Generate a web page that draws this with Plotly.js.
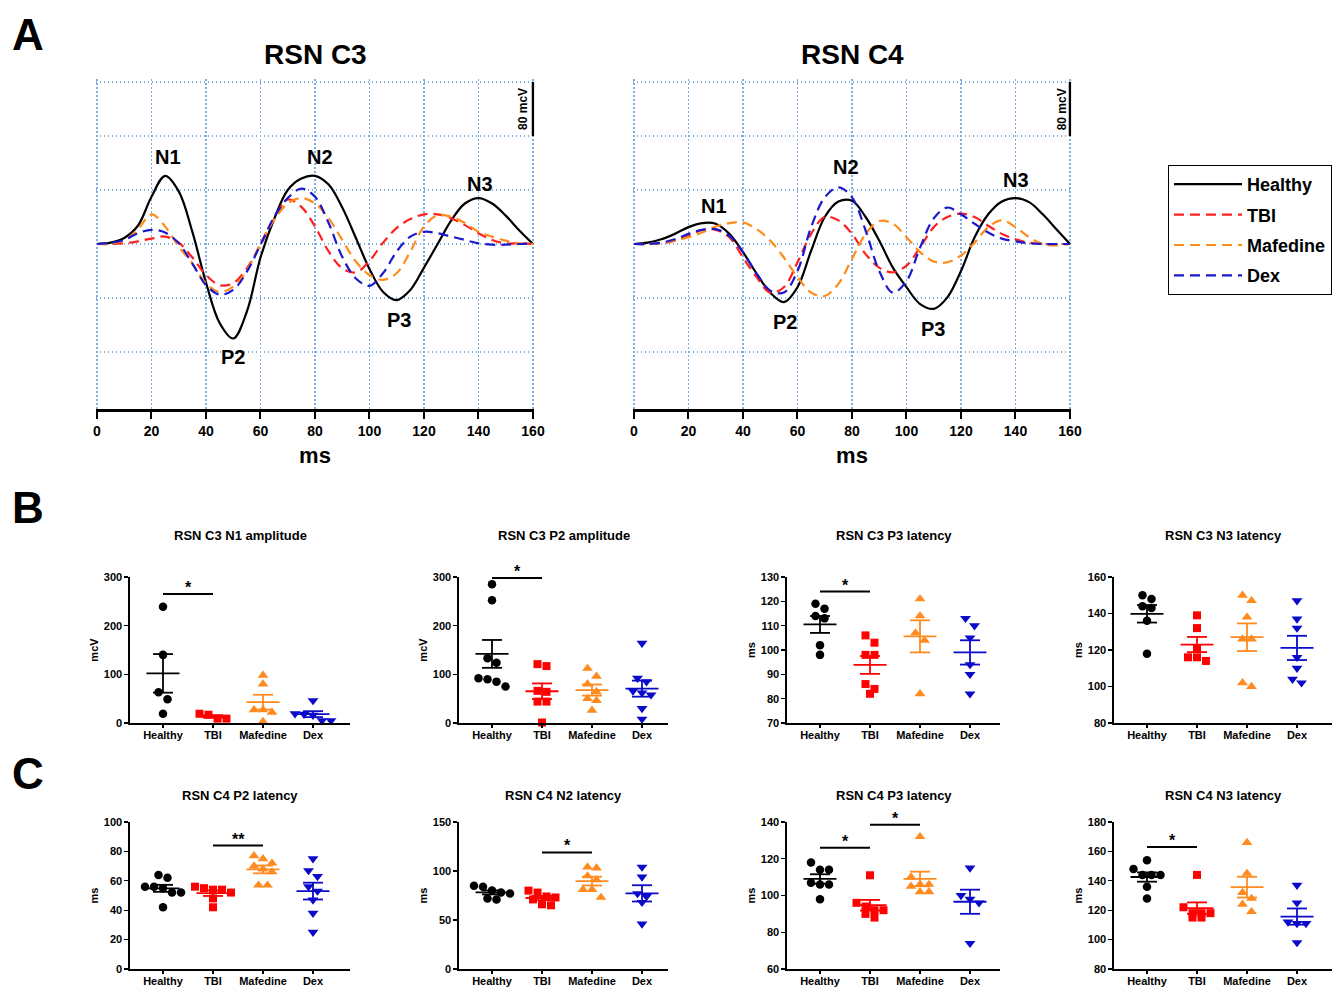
<!DOCTYPE html>
<html><head><meta charset="utf-8">
<script src="https://cdn.plot.ly/plotly-3.0.1.min.js"></script>
<style>html,body{margin:0;padding:0;background:#fff}#chart{width:1342px;height:988px}</style>
</head><body><div id="chart"></div>
<script>
const W = 1342, H = 988;
const FONT = 'Liberation Sans, Arial, Helvetica, sans-serif';

// ---------- Panel A: averaged evoked potentials (mcV vs ms) ----------
const timeMs = [0,5,10,15,20,25,30,35,40,45,50,55,60,65,70,75,80,85,90,95,100,105,110,115,120,125,130,135,140,145,150,155,160];
const waveNames = ['Healthy','TBI','Mafedine','Dex'];
const c3Healthy  = [0,2,9,27,70,101,78,18,-57,-117,-140,-100,-20,37,80,97,101,88,54,9,-37,-71,-83,-68,-35,0,35,60,68,60,42,20,0];
const c3TBI      = [0,0,1,4,8,11,2,-20,-46,-61,-58,-36,-1,36,66,55,26,-11,-36,-42,-25,2,24,37,44,44,38,28,16,6,1,1,0];
const c3Mafedine = [0,1,5,22,44,26,-4,-29,-58,-71,-63,-39,1,36,60,68,60,38,6,-26,-46,-53,-43,-11,26,43,40,31,18,11,5,1,0];
const c3Dex      = [0,2,6,16,21,17,1,-29,-61,-75,-68,-41,-1,40,68,82,70,31,-19,-51,-62,-43,-11,11,18,16,11,6,1,-1,-1,0,0];
const c4Healthy  = [0,2,7,15,25,31,30,15,-12,-44,-72,-86,-64,-10,40,63,64,40,5,-35,-64,-89,-96,-79,-40,10,44,63,68,62,44,22,0];
const c4TBI      = [0,0,1,5,12,21,21,10,-20,-49,-72,-64,-27,15,40,35,15,-15,-35,-42,-32,-5,25,40,45,40,27,15,7,2,0,0,0];
const c4Mafedine = [0,0,2,5,10,17,26,31,32,22,5,-20,-49,-72,-77,-59,-22,15,34,30,10,-12,-26,-27,-17,2,25,35,25,10,0,-2,0];
const c4Dex      = [0,0,2,7,15,21,22,12,-12,-44,-69,-72,-40,25,69,84,69,20,-40,-72,-55,-5,38,54,44,30,17,8,4,1,0,0,0];
const peakLabels = ['N1','N2','N3','P2','P3'];

// ---------- Panels B and C: individual values per group ----------
const groupNames = ['Healthy','TBI','Mafedine','Dex'];
const c3N1Amp = [[239,140,63,49,19],[17,9,9,19],[98,80,27,27,22,3],[46,19,18,16,5,5]];
const c3P2Amp = [[285,252,133,124,92,90,85,75],[121,117,64,66,44,44,1],[112,96,80,64,50,46,26],[164,92,85,66,62,58,30,8]];
const c3P3Lat = [[119,117,114,113,102,98],[106,103,98,98,86,84,82],[121,114,107,104,82],[113,110,105,94,90,82]];
const c3N3Lat = [[150,148,144,143,136,118],[139,132,121,116,116,114],[150,147,138,126,126,100,102],[147,137,132,116,110,104,102]];
const c4P2Lat = [[64,62,56,56,55,52,52,42],[56,55,54,54,52,48,42],[77,75,72,70,68,66,57,57],[75,67,63,56,53,47,38,25]];
const c4N2Lat = [[85,84,80,78,77,72,71],[80,78,74,73,71,66,65],[104,103,95,91,81,81,73],[104,94,77,74,68,46]];
const c4P3Lat = [[118,114,114,107,106,106,98],[111,96,94,92,92,90,88],[132,110,106,106,105,102,102],[115,100,98,96,74]];
const c4N3Lat = [[154,148,144,144,144,136,128],[144,122,118,118,118,115,115],[166,145,132,128,124,119],[137,125,112,111,111,98]];

// ---------- styles ----------
const waveColors = ['#000000','#ff1f1f','#ff8c1a','#1a1acc'];
const waveDash = ['solid','10px,6px','10px,6px','10px,6px'];
const groupColors = ['#000000','#ff0000','#ff8a1f','#0a0ac8'];
const groupSymbols = ['circle','square','triangle-up','triangle-down'];
const groupSizes = [8.5,8,9.5,9.5];
const gridStyle = {showgrid:true, gridcolor:'#7eaee0', griddash:'1.5px,2.5px', gridwidth:1.2};
const bold = (size) => ({family: FONT, size: size, weight: 700, color: '#000'});

const traces = [], annotations = [], shapes = [];
const layout = {
  width: W, height: H, margin: {l:0, r:0, t:0, b:0},
  paper_bgcolor: '#fff', plot_bgcolor: 'rgba(0,0,0,0)',
  font: {family: FONT, color: '#000'},
  showlegend: true,
  legend: {x: 1168/W, y: 1-165/H, xanchor: 'left', yanchor: 'top', bordercolor: '#000', borderwidth: 1,
           bgcolor: '#fff', font: bold(18), tracegroupgap: 4, itemwidth: 68},
  annotations: annotations, shapes: shapes
};

// ---------- Panel A ----------
const msPx = 436/160, mvPx = 54/80;
const topPanels = [
  {n:'', title:'RSN C3', left:97, right:533, series:[c3Healthy,c3TBI,c3Mafedine,c3Dex],
   peakPos:[[26,129],[82,129],[140.6,89],[50,-168],[111,-113]], barX:156.3},
  {n:'2', title:'RSN C4', left:634, right:1070, series:[c4Healthy,c4TBI,c4Mafedine,c4Dex],
   peakPos:[[29.4,56],[77.8,114],[140.2,95],[55.4,-116],[109.7,-126]], barX:157.2}
];
const yTopV = 244, yBotV = -245, zeroPx = 244;
topPanels.forEach((p, pi) => {
  const xa = 'x'+p.n, ya = 'y'+p.n;
  layout['xaxis'+p.n] = Object.assign({
    domain: [(p.left-0.5*msPx)/W, (p.right+0.5*msPx)/W], anchor: ya, range: [-0.5,160.5],
    tick0: 0, dtick: 20, showline: true, linewidth: 2.5, linecolor: '#000',
    ticks: 'outside', ticklen: 7, tickwidth: 2, tickcolor: '#000', tickfont: bold(14),
    zeroline: false, title: {text: 'ms', font: bold(22), standoff: 10}, fixedrange: true
  }, gridStyle);
  layout['yaxis'+p.n] = Object.assign({
    domain: [1-(zeroPx - yBotV*mvPx)/H, 1-(zeroPx - yTopV*mvPx)/H], anchor: xa, range: [yBotV, yTopV],
    tickvals: [-160,-80,0,80,160,240], showticklabels: false, ticks: '', showline: false,
    zeroline: false, fixedrange: true
  }, gridStyle);
  p.series.forEach((ys, k) => {
    traces.push({type:'scatter', mode:'lines', xaxis:xa, yaxis:ya, x:timeMs, y:ys, name:waveNames[k],
      legendgroup:'w'+k,
      line:{color:waveColors[k], width:2.2, dash:waveDash[k], shape:'spline', smoothing:1},
      showlegend: pi === 0, hoverinfo:'x+y'});
  });
  annotations.push({xref:'paper', yref:'paper', x:(p.left+p.right)/2/W, y:1-55/H, text:p.title,
    showarrow:false, xanchor:'center', yanchor:'middle', font:bold(28)});
  peakLabels.forEach((lab, k) => {
    annotations.push({xref:xa, yref:ya, x:p.peakPos[k][0], y:p.peakPos[k][1], text:lab, showarrow:false,
      xanchor:'center', yanchor:'middle', font:bold(20)});
  });
  // 80 mcV scale bar
  shapes.push({type:'line', xref:xa, yref:ya, x0:160, x1:160, y0:160, y1:240, line:{color:'#000', width:2.5}});
  annotations.push({xref:xa, yref:ya, x:p.barX, y:200, text:'80 mcV', textangle:-90, showarrow:false,
    xanchor:'center', yanchor:'middle', font:bold(12)});
});

// panel letters
[['A',35],['B',507],['C',773]].forEach(([t, yp]) => {
  annotations.push({xref:'paper', yref:'paper', x:28/W, y:1-yp/H, text:t, showarrow:false,
    xanchor:'center', yanchor:'middle', font:bold(44)});
});

// ---------- Panels B & C ----------
const catPx = 50;
const rowB = {top:577, bottom:723, titleY:535};
const rowC = {top:822, bottom:969, titleY:795};
const cols = [[130,350],[459,668],[787,1000],[1114,1332]];
const scatterPlots = [
  {data:c3N1Amp, title:'RSN C3 N1 amplitude', yTitle:'mcV', range:[0,300], dtick:100, row:rowB, col:0, sig:[[0,1,265,'*']]},
  {data:c3P2Amp, title:'RSN C3 P2 amplitude', yTitle:'mcV', range:[0,300], dtick:100, row:rowB, col:1, sig:[[0,1,298,'*']]},
  {data:c3P3Lat, title:'RSN C3 P3 latency', yTitle:'ms', range:[70,130], dtick:10, row:rowB, col:2, sig:[[0,1,124,'*']]},
  {data:c3N3Lat, title:'RSN C3 N3 latency', yTitle:'ms', range:[80,160], dtick:20, row:rowB, col:3, sig:[]},
  {data:c4P2Lat, title:'RSN C4 P2 latency', yTitle:'ms', range:[0,100], dtick:20, row:rowC, col:0, sig:[[1,2,84,'**']]},
  {data:c4N2Lat, title:'RSN C4 N2 latency', yTitle:'ms', range:[0,150], dtick:50, row:rowC, col:1, sig:[[1,2,119,'*']]},
  {data:c4P3Lat, title:'RSN C4 P3 latency', yTitle:'ms', range:[60,140], dtick:20, row:rowC, col:2, sig:[[0,1,126,'*'],[1,2,138.5,'*']]},
  {data:c4N3Lat, title:'RSN C4 N3 latency', yTitle:'ms', range:[80,180], dtick:20, row:rowC, col:3, sig:[[0,1,163,'*']]}
];

function mean(a){ return a.reduce((s,v)=>s+v,0)/a.length; }
function sem(a){ const m = mean(a); const v = a.reduce((s,x)=>s+(x-m)*(x-m),0)/(a.length-1); return Math.sqrt(v/a.length); }
// GraphPad-like arrangement: values closer than one marker are spread side by side
function swarmOffsets(vals, pxPerY, gap){
  const idx = vals.map((v,i)=>i).sort((a,b)=>vals[b]-vals[a]);
  const offs = new Array(vals.length).fill(0);
  let row = [], rowY = null;
  const flush = () => row.forEach((k,j)=>{ offs[k] = (j-(row.length-1)/2)*gap; });
  idx.forEach(k => {
    const yp = vals[k]*pxPerY;
    if (row.length && Math.abs(rowY - yp) < gap*0.95) row.push(k);
    else { flush(); row = [k]; rowY = yp; }
  });
  flush();
  return offs;
}

scatterPlots.forEach((p, i) => {
  const n = i + 3, xa = 'x'+n, ya = 'y'+n;
  const [l, r] = cols[p.col];
  layout['xaxis'+n] = {
    domain:[l/W, r/W], anchor:ya, range:[-0.66, -0.66+(r-l)/catPx],
    tickvals:[0,1,2,3], ticktext:groupNames, showline:true, linewidth:1.6, linecolor:'#000',
    ticks:'outside', ticklen:3, tickwidth:1.4, tickcolor:'#000', tickfont:bold(11),
    ticklabelstandoff:-2, showgrid:false, zeroline:false, fixedrange:true
  };
  layout['yaxis'+n] = {
    domain:[1-p.row.bottom/H, 1-p.row.top/H], anchor:xa, range:p.range, tick0:p.range[0], dtick:p.dtick,
    showline:true, linewidth:1.6, linecolor:'#000', ticks:'outside', ticklen:4, tickwidth:1.4, tickcolor:'#000',
    tickfont:bold(11), showgrid:false, zeroline:false, fixedrange:true,
    title:{text:p.yTitle, font:bold(11), standoff:3}
  };
  const pxPerY = (p.row.bottom - p.row.top)/(p.range[1]-p.range[0]);
  p.data.forEach((vals, g) => {
    const offs = swarmOffsets(vals, pxPerY, 9);
    traces.push({type:'scatter', mode:'markers', xaxis:xa, yaxis:ya, name:groupNames[g],
      x: vals.map((v,k)=>g + offs[k]/catPx), y: vals,
      marker:{symbol:groupSymbols[g], color:groupColors[g], size:groupSizes[g], line:{width:0}},
      cliponaxis:false, showlegend:false, hoverinfo:'y'});
    const m = mean(vals), s = sem(vals);
    traces.push({type:'scatter', mode:'lines', xaxis:xa, yaxis:ya, showlegend:false, hoverinfo:'skip',
      x:[g-0.33,g+0.33,null,g-0.2,g+0.2,null,g-0.2,g+0.2,null,g,g],
      y:[m,m,null,m+s,m+s,null,m-s,m-s,null,m-s,m+s],
      line:{color:groupColors[g], width:1.8}});
  });
  p.sig.forEach(([a,b,lvl,label]) => {
    traces.push({type:'scatter', mode:'lines', xaxis:xa, yaxis:ya, showlegend:false, hoverinfo:'skip',
      x:[a,b], y:[lvl,lvl], line:{color:'#000', width:2}});
    annotations.push({xref:xa, yref:ya, x:(a+b)/2, y:lvl, text:label, showarrow:false,
      xanchor:'center', yanchor:'bottom', yshift:-4, font:bold(16)});
  });
  annotations.push({xref:'paper', yref:'paper', x:(l+r)/2/W, y:1-p.row.titleY/H, text:p.title,
    showarrow:false, xanchor:'center', yanchor:'middle', font:bold(13)});
});

Plotly.newPlot('chart', traces, layout, {staticPlot:true, displayModeBar:false});
</script>
</body></html>
